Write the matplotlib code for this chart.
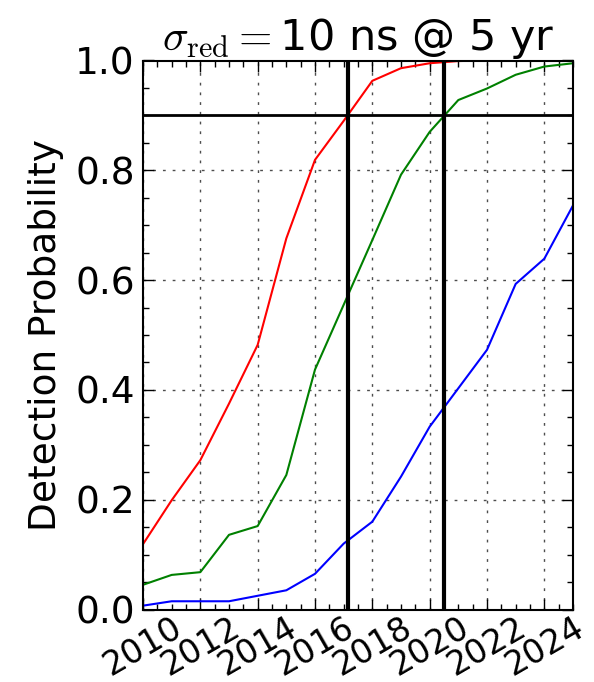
import numpy as np
import matplotlib
matplotlib.use("Agg")
import matplotlib.pyplot as plt
from matplotlib.ticker import MultipleLocator, FormatStrFormatter

years = [2010, 2011, 2012, 2013, 2014, 2015, 2016, 2017, 2018, 2019, 2020, 2021, 2022, 2023, 2024, 2025]
red_prob = [0.119, 0.199, 0.272, 0.375, 0.482, 0.676, 0.819, 0.89, 0.963, 0.986, 0.995, 0.999, 1.0, 1.0, 1.0, 1.0]
green_prob = [0.045, 0.063, 0.068, 0.136, 0.152, 0.245, 0.437, 0.555, 0.673, 0.792, 0.87, 0.928, 0.949, 0.974, 0.989, 0.995]
blue_prob = [0.007, 0.015, 0.015, 0.015, 0.025, 0.035, 0.065, 0.12, 0.16, 0.242, 0.333, 0.403, 0.473, 0.593, 0.639, 0.736]
threshold = 0.9
xtick_labels = ["2010", "2012", "2014", "2016", "2018", "2020", "2022", "2024"]

plt.rcParams['mathtext.fontset'] = 'cm'
plt.rcParams['font.family'] = ['DejaVu Sans']

fig = plt.figure(figsize=(5.94, 6.82), dpi=100)
ax = fig.add_axes([143/594, 1 - 609.5/682, 430/594, 549/682])

ax.plot(years, red_prob, color='#ff0000', lw=1.5)
ax.plot(years, green_prob, color='#008000', lw=1.5)
ax.plot(years, blue_prob, color='#0000ff', lw=1.5)

# crossing years of the threshold
def crossing(y):
    y = np.asarray(y)
    i = np.argmax(y >= threshold)
    return np.interp(threshold, [y[i-1], y[i]], [years[i-1], years[i]])

ax.axhline(threshold, color='k', lw=2)
ax.axvline(crossing(red_prob), color='k', lw=3)
ax.axvline(crossing(green_prob), color='k', lw=3)

ax.set_xlim(2010, 2025)
ax.set_ylim(0, 1)
ax.set_xticks([int(t) for t in xtick_labels])
ax.set_xticklabels(xtick_labels, rotation=30, ha='center')
ax.xaxis.set_minor_locator(MultipleLocator(0.5))
ax.yaxis.set_major_locator(MultipleLocator(0.2))
ax.yaxis.set_minor_locator(MultipleLocator(0.05))
ax.yaxis.set_major_formatter(FormatStrFormatter('%.1f'))

ax.grid(True, which='major', color='0.3', linestyle=(0, (2, 5)), lw=1)
ax.tick_params(which='both', direction='in', top=True, right=True, width=1)
ax.tick_params(which='major', length=8)
ax.tick_params(which='minor', length=4)
ax.tick_params(axis='x', pad=1, labelsize=24)
ax.tick_params(axis='y', pad=6, labelsize=27)
for s in ax.spines.values():
    s.set_linewidth(1.5)

ax.set_ylabel("Detection Probability", fontsize=27, labelpad=8)
ax.set_title(r"$\sigma_{\rm red}=$10 ns @ 5 yr", fontsize=31, pad=4)

fig.savefig("out.png", dpi=100)
